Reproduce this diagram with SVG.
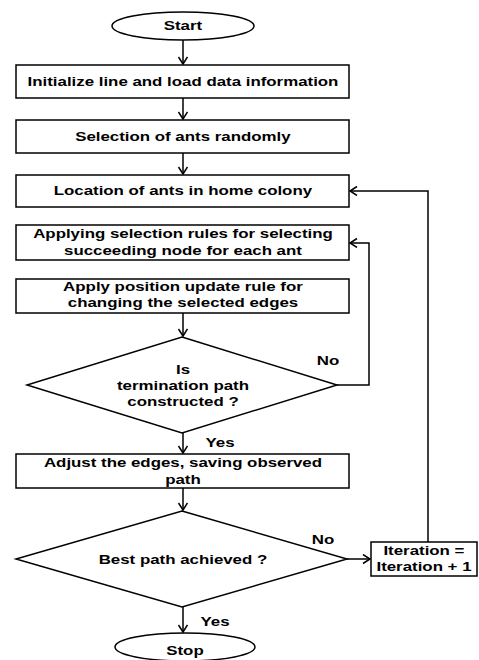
<svg xmlns="http://www.w3.org/2000/svg" width="479" height="660" viewBox="0 0 479 660">
<style>
.s{fill:#fff;stroke:#000;stroke-width:1.5}
.c{fill:none;stroke:#000;stroke-width:1.5}
text{font-family:"Liberation Sans",Arial,sans-serif;font-weight:bold;font-size:12.5px;text-anchor:middle;fill:#000;transform-box:fill-box;transform-origin:center;transform:scaleX(1.35)}
</style>
<defs>
<marker id="a" markerUnits="userSpaceOnUse" markerWidth="12" markerHeight="12" refX="8" refY="5" orient="auto" viewBox="0 0 12 12">
<path d="M1,0.5 L8,5 L1,9.5" fill="none" stroke="#000" stroke-width="1.5"/>
</marker>
</defs>
<rect width="479" height="660" fill="#fff"/>
<g id="connectors">
<path class="c" d="M183,40 V64" marker-end="url(#a)"/>
<path class="c" d="M183,98 V119" marker-end="url(#a)"/>
<path class="c" d="M183,153 V174" marker-end="url(#a)"/>
<path class="c" d="M183,313 V336" marker-end="url(#a)"/>
<path class="c" d="M337,385 H369 V243 H350" marker-end="url(#a)"/>
<path class="c" d="M183,433 V453" marker-end="url(#a)"/>
<path class="c" d="M183,488 V510" marker-end="url(#a)"/>
<path class="c" d="M347,559 H370" marker-end="url(#a)"/>
<path class="c" d="M428,542 V191 H350" marker-end="url(#a)"/>
<path class="c" d="M183,607 V632" marker-end="url(#a)"/>
<text x="328" y="365">No</text>
<text x="220" y="447">Yes</text>
<text x="323" y="544">No</text>
<text x="215" y="626">Yes</text>
</g>
<g id="start"><ellipse class="s" cx="183" cy="26" rx="71" ry="14"/><text x="183" y="30">Start</text></g>
<g id="init"><rect class="s" x="16" y="65" width="333" height="33"/><text x="183" y="86">Initialize line and load data information</text></g>
<g id="select"><rect class="s" x="16" y="120" width="333" height="33"/><text x="183" y="141">Selection of ants randomly</text></g>
<g id="location"><rect class="s" x="16" y="175" width="333" height="32"/><text x="183" y="195">Location of ants in home colony</text></g>
<g id="rules"><rect class="s" x="16" y="225" width="333" height="35"/><text x="183" y="238">Applying selection rules for selecting</text><text x="183" y="255">succeeding node for each ant</text></g>
<g id="update"><rect class="s" x="16" y="279" width="333" height="34"/><text x="183" y="291">Apply position update rule for</text><text x="183" y="307">changing the selected edges</text></g>
<g id="term"><polygon class="s" points="182,337 337,385 182,433 27,385"/><text x="183" y="374">Is</text><text x="183" y="390">termination path</text><text x="183" y="406">constructed ?</text></g>
<g id="adjust"><rect class="s" x="16" y="454" width="333" height="34"/><text x="183" y="467">Adjust the edges, saving observed</text><text x="183" y="484">path</text></g>
<g id="best"><polygon class="s" points="182,511 347,559 182,607 16,559"/><text x="183" y="564">Best path achieved ?</text></g>
<g id="iter"><rect class="s" x="371" y="542" width="106" height="34"/><text x="424" y="555">Iteration =</text><text x="424" y="571">Iteration + 1</text></g>
<g id="stop"><ellipse class="s" cx="185" cy="647" rx="70" ry="14"/><text x="185" y="655">Stop</text></g>
</svg>
